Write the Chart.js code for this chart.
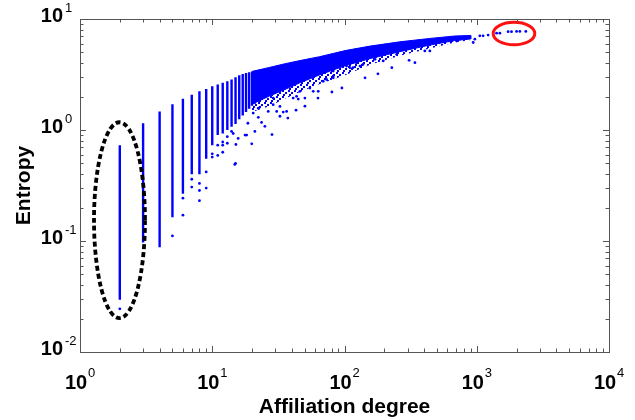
<!DOCTYPE html>
<html>
<head>
<meta charset="utf-8">
<script src="https://cdn.jsdelivr.net/npm/chart.js@4"></script>
<style>
  html, body { margin: 0; padding: 0; background: #fff; }
</style>
</head>
<body>
<canvas id="chart1" width="635" height="420"></canvas>
<script>
// degree columns (low degrees form separate vertical stripes)
const colDegree = [2, 3, 4, 5, 6, 7, 8, 9, 10, 11, 12, 13, 14, 15, 16, 17, 18, 19, 20, 21, 22, 23, 24];
const colMax = [0.73, 1.15, 1.47, 1.71, 1.91, 2.08, 2.23, 2.34, 2.48, 2.57, 2.66, 2.75, 2.85, 2.98, 3.12, 3.19, 3.26, 3.31, 3.37, 3.42, 3.47, 3.5, 3.54];
const colMin = [0.0295, 0.097, 0.088, 0.164, 0.266, 0.40, 0.40, 0.55, 0.73, 0.90, 0.93, 1.0, 1.07, 1.13, 1.25, 1.35, 1.45, 1.55, 1.65, 1.72, 1.8, 1.88, 1.95];

// isolated points under the columns
const sparseDegree = [2, 5, 6, 6, 7, 7, 8, 8, 8, 9, 9, 10, 10, 11, 11, 12, 12, 12, 13, 13, 14, 15];
const sparseEntropy = [0.0245, 0.111, 0.243, 0.171, 0.36, 0.306, 0.33, 0.285, 0.231, 0.419, 0.30, 0.61, 0.57, 0.73, 0.59, 0.78, 0.73, 0.63, 0.87, 0.76, 0.97, 0.50];

// cloud for higher degrees: upper edge, dense lower edge, loose lower edge
const bandDegree = [20, 27, 35, 46, 65, 101, 156, 262, 442, 683, 900];
const bandUpper = [3.37, 3.66, 3.94, 4.22, 4.58, 5.19, 5.70, 6.23, 6.68, 7.03, 7.10];
const bandLower = [1.71, 2.02, 2.30, 2.66, 3.14, 3.79, 4.40, 5.08, 5.82, 6.40, 6.61];
const bandLoose = [1.45, 1.64, 1.90, 2.20, 2.60, 3.11, 3.87, 4.67, 5.42, 6.14, 6.47];

// scattered points around the cloud and the tail
const outDegree = [
  23.6, 26.5, 30.7, 14.8, 19.9, 18.2, 32.5, 36.5, 40.9, 43.4,
  54.7, 58, 69, 73.2, 82.2, 103.7, 116, 123, 22.3, 28.9,
  25.8, 46, 50.2, 15.1, 15.7, 17.7, 34.4, 44.7, 63.3, 82.2,
  22.3, 28.9, 20.4, 14.4, 308, 196, 170, 138, 131, 110,
  405, 442, 82.2, 248, 557, 626, 703, 745, 813, 940,
  968, 1055, 1117, 1219, 1413, 1496, 1727, 1832, 2000, 2118,
  2350, 25, 21, 18.6, 37.3, 50.2, 63, 80.3, 95.6, 143,
  179, 228, 341, 32.5, 43, 28.3
];
const outEntropy = [
  1.17, 1.47, 1.47, 0.49, 0.75, 0.90, 1.63, 1.47, 1.94, 2.01,
  2.39, 2.23, 2.75, 2.85, 2.95, 3.77, 3.64, 4.04, 1.30, 1.69,
  2.08, 2.23, 1.94, 0.74, 0.84, 0.90, 1.45, 1.90, 2.23, 3.40,
  1.57, 1.94, 1.42, 0.93, 4.24, 4.19, 4.33, 3.90, 3.77, 3.64,
  5.16, 5.16, 3.06, 4.81, 6.23, 6.36, 6.36, 6.58, 6.68, 6.14,
  6.58, 7.06, 7.06, 7.16, 7.46, 7.46, 7.68, 7.68, 7.73, 7.73,
  7.73, 1.08, 0.97, 1.15, 1.28, 1.64, 1.94, 2.20, 2.39, 2.95,
  3.21, 3.64, 4.04, 1.33, 1.51, 0.91
];

// tick labels (powers of ten)
const xTickExp = [0, 1, 2, 3, 4];
const yTickExp = [-2, -1, 0, 1];

// highlighted regions
const blackEllipse = { xMin: 1.276, xMax: 3.1, yMin: 0.0202, yMax: 1.175 };
const redEllipse = { xMin: 1331, xMax: 2748, yMin: 5.85, yMax: 9.33 };

const blue = "#0000ff";
const axisColor = "#555";
const labelFont = '"Liberation Sans", Arial, sans-serif';

// speckle fill for the loose part of the cloud
function speckle() {
  const c = document.createElement("canvas");
  c.width = 6; c.height = 6;
  const g = c.getContext("2d");
  g.fillStyle = blue;
  g.fillRect(0, 0, 2, 2);
  g.fillRect(3, 2, 2, 2);
  g.fillRect(1, 4, 2, 2);
  return g.createPattern(c, "repeat");
}

// build data for the library
const columnPoints = [];
colDegree.forEach((d, i) => {
  columnPoints.push({ x: d, y: colMax[i] });
  columnPoints.push({ x: d, y: colMin[i] });
  columnPoints.push({ x: d, y: null });
});
const upperEdge = bandDegree.map((d, i) => ({ x: d, y: bandUpper[i] }));
const densePoints = upperEdge.concat(bandDegree.map((d, i) => ({ x: d, y: bandLower[i] })).reverse());
const loosePoints = upperEdge.concat(bandDegree.map((d, i) => ({ x: d, y: bandLoose[i] })).reverse());
const scatterPoints = sparseDegree.map((d, i) => ({ x: d, y: sparseEntropy[i] }))
  .concat(outDegree.map((d, i) => ({ x: d, y: outEntropy[i] })));

function drawEllipse(ctx, xs, ys, e) {
  const x1 = xs.getPixelForValue(e.xMin), x2 = xs.getPixelForValue(e.xMax);
  const y1 = ys.getPixelForValue(e.yMax), y2 = ys.getPixelForValue(e.yMin);
  ctx.beginPath();
  ctx.ellipse((x1 + x2) / 2, (y1 + y2) / 2, (x2 - x1) / 2, (y2 - y1) / 2, 0, 0, Math.PI * 2);
  ctx.stroke();
}

const framePlugin = {
  id: "frame",
  afterDatasetsDraw(chart) {
    const ctx = chart.ctx;
    const xs = chart.scales.x, ys = chart.scales.y;
    const a = chart.chartArea;
    ctx.save();
    // ellipses
    ctx.strokeStyle = "#000";
    ctx.lineWidth = 3.8;
    ctx.setLineDash([5, 3]);
    drawEllipse(ctx, xs, ys, blackEllipse);
    ctx.setLineDash([]);
    ctx.strokeStyle = "#ff1010";
    ctx.lineWidth = 3;
    drawEllipse(ctx, xs, ys, redEllipse);

    // box
    ctx.strokeStyle = axisColor;
    ctx.lineWidth = 1;
    ctx.strokeRect(a.left + 0.5, a.top + 0.5, a.right - a.left, a.bottom - a.top);

    // inward ticks on all sides
    ctx.beginPath();
    for (let e = 0; e < 4; e++) {
      for (let m = 1; m <= 9; m++) {
        const px = Math.round(xs.getPixelForValue(m * Math.pow(10, e))) + 0.5;
        const len = m === 1 ? 6 : 3.5;
        ctx.moveTo(px, a.bottom); ctx.lineTo(px, a.bottom - len);
        ctx.moveTo(px, a.top); ctx.lineTo(px, a.top + len);
      }
    }
    for (let e = -2; e < 1; e++) {
      for (let m = 1; m <= 9; m++) {
        const py = Math.round(ys.getPixelForValue(m * Math.pow(10, e))) + 0.5;
        const len = m === 1 ? 6 : 3.5;
        ctx.moveTo(a.left, py); ctx.lineTo(a.left + len, py);
        ctx.moveTo(a.right, py); ctx.lineTo(a.right - len, py);
      }
    }
    ctx.stroke();

    // tick labels
    ctx.fillStyle = "#000";
    xTickExp.forEach((p) => {
      const px = xs.getPixelForValue(Math.pow(10, p));
      ctx.font = "bold 20px " + labelFont;
      ctx.textAlign = "center";
      ctx.textBaseline = "alphabetic";
      ctx.fillText("10", px - 4, 389);
      const w = ctx.measureText("10").width;
      ctx.font = "13px " + labelFont;
      ctx.textAlign = "left";
      ctx.fillText(String(p), px - 4 + w / 2 + 1, 377);
    });
    yTickExp.forEach((p) => {
      const py = ys.getPixelForValue(Math.pow(10, p));
      ctx.font = "bold 20px " + labelFont;
      ctx.textAlign = "right";
      ctx.textBaseline = "alphabetic";
      ctx.fillText("10", 63, py + 3);
      ctx.font = "13px " + labelFont;
      ctx.textAlign = "left";
      ctx.fillText(String(p), 65, py - 7);
    });

    // axis titles
    ctx.font = "bold 21px " + labelFont;
    ctx.textAlign = "center";
    ctx.textBaseline = "middle";
    ctx.fillText("Affiliation degree", (a.left + a.right) / 2, 407);
    ctx.translate(24, (a.top + a.bottom) / 2);
    ctx.rotate(-Math.PI / 2);
    ctx.fillText("Entropy", 0, 0);
    ctx.restore();
  },
};

const ctx1 = document.getElementById("chart1").getContext("2d");
const chart1 = new Chart(ctx1, {
  type: "scatter",
  data: {
    datasets: [
      {
        label: "cloud loose",
        data: loosePoints,
        showLine: true,
        fill: "shape",
        tension: 0,
        pointRadius: 0,
        borderWidth: 0,
        borderColor: "rgba(0, 0, 255, 0)",
        backgroundColor: speckle(),
      },
      {
        label: "cloud",
        data: densePoints,
        showLine: true,
        fill: "shape",
        tension: 0,
        pointRadius: 0,
        borderWidth: 1,
        borderColor: blue,
        backgroundColor: blue,
      },
      {
        label: "columns",
        data: columnPoints,
        showLine: true,
        spanGaps: false,
        pointRadius: 0,
        borderWidth: 2.4,
        borderColor: blue,
      },
      {
        label: "points",
        data: scatterPoints,
        pointRadius: 1.4,
        borderWidth: 0,
        backgroundColor: blue,
      },
    ],
  },
  options: {
    responsive: false,
    animation: false,
    layout: { padding: { left: 80, right: 26, top: 19, bottom: 68 } },
    scales: {
      x: { type: "logarithmic", min: 1, max: 10000, display: false },
      y: { type: "logarithmic", min: 0.01, max: 10, display: false },
    },
    plugins: {
      legend: { display: false },
      tooltip: { enabled: false },
    },
  },
  plugins: [framePlugin],
});
</script>
</body>
</html>
